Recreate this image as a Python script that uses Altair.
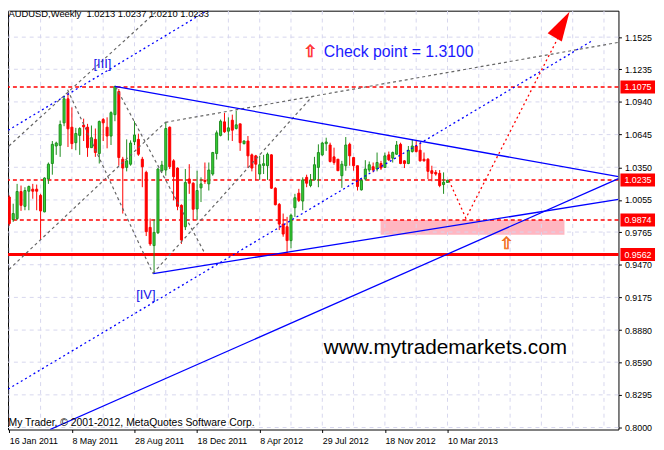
import altair as alt
import pandas as pd

# ---------------- data ----------------
weeks = list(range(113))
opens = [1.0081, 0.9878, 0.9887, 1.0131, 0.9997, 1.0134, 1.0152, 1.0152, 1.0096, 0.9947,
         1.0244, 1.0384, 1.0542, 1.0548, 1.0751, 1.0968, 1.0712, 1.0572, 1.0638, 1.0730,
         1.0712, 1.0527, 1.0602, 1.0474, 1.0781, 1.0712, 1.0632, 1.0825, 1.1034, 1.0423,
         1.0349, 1.0378, 1.0581, 1.0602, 1.0423, 1.0304, 0.9807, 0.9643, 0.9759, 1.0319,
         1.0325, 1.0712, 1.0408, 1.0343, 1.0006, 0.9813, 1.0244, 1.0206, 0.9974, 1.0164,
         1.0230, 1.0200, 1.0289, 1.0474, 1.0638, 1.0760, 1.0676, 1.0775, 1.0700, 1.0742,
         1.0563, 1.0587, 1.0462, 1.0453, 1.0289, 1.0367, 1.0364, 1.0462, 1.0161, 1.0015,
         0.9837, 0.9813, 0.9688, 0.9985, 1.0116, 1.0045, 1.0259, 1.0185, 1.0236, 1.0349,
         1.0462, 1.0563, 1.0551, 1.0444, 1.0423, 1.0274, 1.0364, 1.0557, 1.0438, 1.0364,
         1.0146, 1.0244, 1.0325, 1.0355, 1.0334, 1.0384, 1.0349, 1.0462, 1.0432, 1.0468,
         1.0557, 1.0408, 1.0384, 1.0492, 1.0542, 1.0504, 1.0423, 1.0423, 1.0319, 1.0304,
         1.0295, 1.0194, 1.0213]
highs = [1.0096, 1.0021, 1.0200, 1.0185, 1.0170, 1.0185, 1.0200, 1.0194, 1.0110, 1.0259,
         1.0393, 1.0587, 1.0581, 1.0772, 1.0998, 1.1019, 1.0891, 1.0706, 1.0712, 1.0789,
         1.0742, 1.0727, 1.0700, 1.0772, 1.0795, 1.0801, 1.0855, 1.1087, 1.1057, 1.0444,
         1.0602, 1.0593, 1.0766, 1.0653, 1.0444, 1.0319, 0.9887, 0.9878, 1.0343, 1.0408,
         1.0760, 1.0718, 1.0423, 1.0349, 1.0015, 1.0334, 1.0378, 1.0215, 1.0319, 1.0259,
         1.0393, 1.0393, 1.0489, 1.0682, 1.0781, 1.0840, 1.0801, 1.0825, 1.0861, 1.0742,
         1.0593, 1.0632, 1.0474, 1.0462, 1.0453, 1.0462, 1.0483, 1.0468, 1.0170, 1.0027,
         0.9932, 0.9902, 0.9932, 1.0110, 1.0155, 1.0259, 1.0283, 1.0289, 1.0444, 1.0557,
         1.0581, 1.0617, 1.0572, 1.0527, 1.0423, 1.0408, 1.0623, 1.0572, 1.0444, 1.0364,
         1.0244, 1.0414, 1.0402, 1.0393, 1.0483, 1.0408, 1.0483, 1.0492, 1.0492, 1.0587,
         1.0572, 1.0414, 1.0542, 1.0602, 1.0593, 1.0572, 1.0483, 1.0432, 1.0364, 1.0325,
         1.0325, 1.0304, 1.0237]
lows = [0.9822, 0.9857, 0.9872, 0.9956, 0.9962, 0.9962, 1.0066, 0.9962, 0.9694, 0.9944,
        1.0200, 1.0283, 1.0462, 1.0444, 1.0721, 1.0533, 1.0513, 1.0504, 1.0462, 1.0587,
        1.0444, 1.0527, 1.0444, 1.0384, 1.0587, 1.0521, 1.0551, 1.0766, 1.0364, 0.9932,
        1.0313, 1.0364, 1.0551, 1.0453, 1.0170, 0.9729, 0.9640, 0.9396, 0.9747, 1.0304,
        1.0274, 1.0334, 1.0051, 0.9962, 0.9658, 0.9783, 1.0110, 0.9872, 0.9872, 1.0036,
        1.0200, 1.0140, 1.0274, 1.0420, 1.0629, 1.0661, 1.0593, 1.0587, 1.0691, 1.0498,
        1.0557, 1.0343, 1.0313, 1.0236, 1.0236, 1.0289, 1.0236, 1.0155, 1.0006, 0.9783,
        0.9723, 0.9568, 0.9619, 0.9902, 1.0036, 0.9962, 1.0170, 1.0170, 1.0230, 1.0170,
        1.0453, 1.0498, 1.0393, 1.0373, 1.0319, 1.0164, 1.0319, 1.0364, 1.0319, 1.0140,
        1.0140, 1.0230, 1.0304, 1.0304, 1.0313, 1.0325, 1.0343, 1.0408, 1.0393, 1.0462,
        1.0378, 1.0343, 1.0378, 1.0483, 1.0483, 1.0402, 1.0402, 1.0244, 1.0224, 1.0274,
        1.0170, 1.0110, 1.0210]
closes = [0.9842, 0.9932, 1.0131, 1.0006, 1.0140, 1.0176, 1.0134, 1.0134, 0.9956, 1.0253,
          1.0378, 1.0557, 1.0569, 1.0736, 1.0968, 1.0697, 1.0563, 1.0655, 1.0700, 1.0715,
          1.0527, 1.0617, 1.0483, 1.0763, 1.0751, 1.0632, 1.0843, 1.1078, 1.0438, 1.0343,
          1.0408, 1.0569, 1.0641, 1.0468, 1.0355, 0.9768, 0.9658, 0.9762, 1.0334, 1.0370,
          1.0700, 1.0355, 1.0265, 0.9997, 0.9694, 1.0212, 1.0206, 0.9971, 1.0140, 1.0200,
          1.0221, 1.0325, 1.0483, 1.0661, 1.0766, 1.0670, 1.0706, 1.0685, 1.0733, 1.0572,
          1.0587, 1.0453, 1.0343, 1.0378, 1.0373, 1.0382, 1.0468, 1.0161, 1.0012, 0.9837,
          0.9747, 0.9688, 0.9917, 1.0075, 1.0051, 1.0236, 1.0206, 1.0236, 1.0373, 1.0483,
          1.0569, 1.0578, 1.0402, 1.0393, 1.0319, 1.0378, 1.0551, 1.0453, 1.0364, 1.0176,
          1.0230, 1.0334, 1.0373, 1.0325, 1.0393, 1.0343, 1.0453, 1.0417, 1.0483, 1.0551,
          1.0384, 1.0384, 1.0504, 1.0542, 1.0492, 1.0408, 1.0408, 1.0313, 1.0295, 1.0289,
          1.0185, 1.0215, 1.0233]

date_ticks = [0, 16, 32, 48, 64, 80, 96, 112]
date_labels = ["16 Jan 2011", "8 May 2011", "28 Aug 2011", "18 Dec 2011",
               "8 Apr 2012", "29 Jul 2012", "18 Nov 2012", "10 Mar 2013"]
price_ticks = [0.8000, 0.8295, 0.8590, 0.8880, 0.9175, 0.9470, 0.9765,
               1.0055, 1.0350, 1.0645, 1.0940, 1.1235, 1.1525]
grid_weeks = list(range(0, 160, 8))

dashed_levels = [1.1075, 1.0235, 0.9874]
support_level = [0.9562]
marked_levels = [1.1075, 1.0235, 0.9874, 0.9562]

# trend lines: (name, [weeks], [prices])
blue_solid_lines = [
    ("upper", [27.0, 155.7], [1.1080, 1.0265]),
    ("lower", [36.8, 155.7], [0.9390, 1.0060]),
    ("long", [10.4, 155.7], [0.7982, 1.0247]),
]
blue_dotted_lines = [
    ("ch_up", [-0.3, 52.2], [1.0684, 1.1799]),
    ("ch_low", [-0.3, 148.7], [0.8347, 1.1487]),
]
gray_dotted_lines = [
    ("g1", [-0.1, 39.9], [0.9427, 1.0756]),
    ("g2", [-0.1, 39.2], [1.0542, 1.1808]),
    ("g3", [27.2, 49.9], [1.1077, 0.9578]),
    ("g4", [39.9, 155.7], [1.0756, 1.1478]),
    ("g5", [36.7, 77.4], [0.9391, 1.0988]),
    ("g7", [14.9, 36.7], [1.1050, 0.9391]),
]
projection_weeks = [112.4, 116.7, 140.7]
projection_prices = [1.0229, 0.9890, 1.1550]
arrow_head = {"week": [141.3], "price": [1.1639]}

zone_weeks = [94.9, 141.9]
zone_prices = [0.9874, 0.9740]

# ---------------- scales / axes ----------------
W, H = 618, 424
xs = alt.Scale(domain=[-0.33, 155.7], nice=False, zero=False)
ys = alt.Scale(domain=[0.7982, 1.1764], nice=False, zero=False)
FONT = "Liberation Sans"

label_js = "[" + ",".join("'%s'" % d for d in date_labels) + "]"
x_axis = alt.Axis(values=date_ticks, labelExpr=label_js + "[round(datum.value/16)]",
                  grid=False, domain=False, ticks=True, tickSize=3, tickColor="black",
                  labelAlign="left", labelPadding=4, labelFont=FONT, labelFontSize=9,
                  labelColor="black", title=None, labelOverlap=False, labelBound=False,
                  labelFlush=False)
y_axis = alt.Axis(orient="right", values=price_ticks, format=".4f", grid=False,
                  domain=False, ticks=True, tickSize=3, tickColor="black", labelPadding=3,
                  labelFont=FONT, labelFontSize=9, labelColor="black", title=None,
                  labelOverlap=False, labelBound=False, labelFlush=False)


def X(f):
    return alt.X(f, type="quantitative", scale=xs, axis=x_axis)


def Y(f):
    return alt.Y(f, type="quantitative", scale=ys, axis=y_axis)


def lines_df(lines):
    rows = []
    for name, wk, pr in lines:
        for i, (a, b) in enumerate(zip(wk, pr)):
            rows.append({"name": name, "week": a, "price": b, "o": i})
    return pd.DataFrame(rows)


candles = pd.DataFrame({"week": weeks, "open": opens, "high": highs,
                        "low": lows, "close": closes})

# ---------------- layers ----------------
zone = alt.Chart(pd.DataFrame({"w1": [zone_weeks[0]], "w2": [zone_weeks[1]],
                               "p1": [zone_prices[0]], "p2": [zone_prices[1]]})).mark_rect(
    color="#FFB6C1", opacity=1).encode(x=X("w1"), x2="w2", y=Y("p1"), y2="p2")

grid_h = alt.Chart(pd.DataFrame({"price": price_ticks})).mark_rule(
    color="#d6d6ee", strokeDash=[4, 4], strokeWidth=1).encode(y=Y("price"))
grid_v = alt.Chart(pd.DataFrame({"week": grid_weeks})).mark_rule(
    color="#d6d6ee", strokeDash=[4, 4], strokeWidth=1, clip=True).encode(x=X("week"))

levels = alt.Chart(pd.DataFrame({"price": dashed_levels})).mark_rule(
    color="#FF0000", strokeDash=[4, 3], strokeWidth=1.5).encode(y=Y("price"))
support = alt.Chart(pd.DataFrame({"price": support_level})).mark_rule(
    color="#FF0000", strokeWidth=3).encode(y=Y("price"))

is_up = "datum.close >= datum.open"
cbase = alt.Chart(candles).transform_calculate(
    btop="max(datum.open, datum.close)",
    bbot="min(datum.open, datum.close)",
    xl="datum.week - 0.26",
    xr="datum.week + 0.26",
)
wicks = cbase.mark_rule(strokeWidth=1, clip=True).encode(
    x=X("week"), y=Y("low"), y2="high",
    color=alt.condition(is_up, alt.value("#1e8c1e"), alt.value("#FF0000")))
bodies = cbase.mark_rect(strokeWidth=1, clip=True).encode(
    x=X("xl"), x2="xr", y=Y("bbot"), y2="btop",
    fill=alt.condition(is_up, alt.value("#35d435"), alt.value("#FF0000")),
    stroke=alt.condition(is_up, alt.value("#1e8c1e"), alt.value("#FF0000")))

blue_solid = alt.Chart(lines_df(blue_solid_lines)).mark_line(
    color="#0000FF", strokeWidth=1.3, clip=True).encode(
    x=X("week"), y=Y("price"), detail="name:N", order="o:Q")
blue_dotted = alt.Chart(lines_df(blue_dotted_lines)).mark_line(
    color="#0000FF", strokeWidth=1.3, strokeDash=[2, 3], clip=True).encode(
    x=X("week"), y=Y("price"), detail="name:N", order="o:Q")
gray_dotted = alt.Chart(lines_df(gray_dotted_lines)).mark_line(
    color="#666666", strokeWidth=1.2, strokeDash=[3, 3], clip=True).encode(
    x=X("week"), y=Y("price"), detail="name:N", order="o:Q")
projection = alt.Chart(pd.DataFrame({"week": projection_weeks, "price": projection_prices,
                                     "o": list(range(len(projection_weeks)))})).mark_line(
    color="#FF0000", strokeWidth=1.3, strokeDash=[2, 3], clip=True).encode(
    x=X("week"), y=Y("price"), order="o:Q")
head = alt.Chart(pd.DataFrame(arrow_head)).mark_point(
    shape="M0,-1L0.55,1L-0.55,1Z", filled=True, color="#FF0000", opacity=1,
    size=900, angle=30).encode(x=X("week"), y=Y("price"))


def text_layer(txt, wk, pr, **kw):
    return alt.Chart(pd.DataFrame({"t": [txt], "week": [wk], "price": [pr]})).mark_text(
        **kw).encode(x=X("week"), y=Y("price"), text="t:N")


title = text_layer("AUDUSD,Weekly\u00a0 1.0213 1.0237 1.0210 1.0233", -0.2, 1.1737,
                   align="left", baseline="middle", font=FONT, fontSize=9.5, color="black")
footer = text_layer("My Trader, \u00a9 2001-2012, MetaQuotes Software Corp.", -0.2, 0.8040,
                    align="left", baseline="middle", font=FONT, fontSize=10.5, color="black")
wave3 = text_layer("[III]", 23.8, 1.1282, align="center", baseline="middle", font=FONT,
                   fontSize=13, color="#1010E8")
wave4 = text_layer("[IV]", 34.9, 0.9195, align="center", baseline="middle", font=FONT,
                   fontSize=13, color="#1010E8")
check = text_layer("Check point = 1.3100", 80.4, 1.1389, align="left", baseline="middle",
                   font=FONT, fontSize=16, color="#1a1aff")
site = text_layer("www.mytrademarkets.com", 80.4, 0.8713, align="left", baseline="middle",
                  font=FONT, fontSize=21, color="black")
arrow1 = text_layer("\u21e7", 76.9, 1.1389, align="center", baseline="middle",
                    font="DejaVu Sans", fontSize=17, color="#FFE8D8", stroke="#FF2020",
                    strokeWidth=0.7)
arrow2 = text_layer("\u21e7", 127.1, 0.9654, align="center", baseline="middle",
                    font="DejaVu Sans", fontSize=17, color="#FFF4E0", stroke="#F06000",
                    strokeWidth=0.7)

mk = pd.DataFrame({"price": marked_levels})
boxes = alt.Chart(mk).mark_rule(color="#FF0000", strokeWidth=13, strokeCap="butt").encode(
    x=alt.value(W + 2), x2=alt.value(W + 37), y=Y("price"))
box_text = alt.Chart(mk).mark_text(align="left", baseline="middle", font=FONT, fontSize=9,
                                   color="white").encode(
    x=alt.value(W + 6), y=Y("price"), text=alt.Text("price:Q", format=".4f"))

chart = alt.layer(
    zone, grid_h, grid_v, levels, support, wicks, bodies,
    gray_dotted, blue_dotted, blue_solid, projection, head,
    title, footer, wave3, wave4, check, site, arrow1, arrow2, boxes, box_text,
).properties(
    width=W, height=H,
    autosize=alt.AutoSizeParams(type="none"),
    padding={"left": 0, "top": 0, "right": 38, "bottom": 16},
    background="white",
).configure_view(stroke="black", strokeWidth=1)

chart.save("out.html", embed_options={"renderer": "svg", "actions": False})
